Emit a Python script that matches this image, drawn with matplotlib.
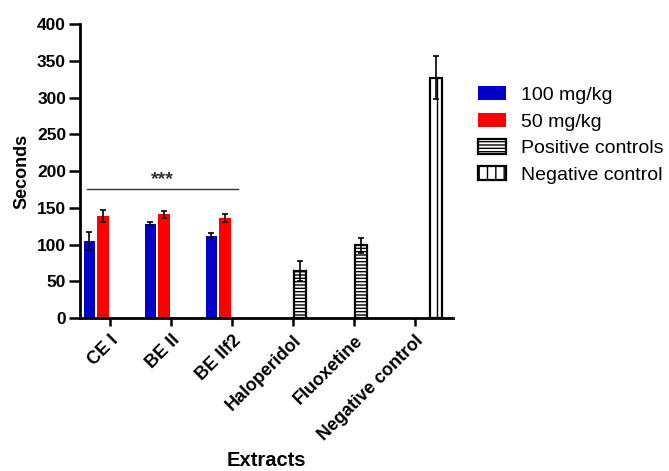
import numpy as np
import matplotlib
matplotlib.use('Agg')
import matplotlib.pyplot as plt

plt.rcParams['font.family'] = ['Liberation Sans', 'DejaVu Sans']
plt.rcParams['hatch.linewidth'] = 1.0

categories = ['CE I', 'BE II', 'BE IIf2', 'Haloperidol', 'Fluoxetine', 'Negative control']
dose100 = [105, 128, 112, np.nan, np.nan, np.nan]
dose100_err = [12, 2, 3, 0, 0, 0]
dose50 = [139, 141, 136, np.nan, np.nan, np.nan]
dose50_err = [8, 5, 6, 0, 0, 0]
positive = [np.nan, np.nan, np.nan, 64, 99, np.nan]
positive_err = [0, 0, 0, 14, 10, 0]
negative = [np.nan, np.nan, np.nan, np.nan, np.nan, 327]
negative_err = [0, 0, 0, 0, 0, 29]

fig = plt.figure(figsize=(6.69, 4.71), dpi=100)
ax = fig.add_axes([0.1196, 0.3248, 0.5575, 0.6242])

x = np.arange(len(categories))
w = 0.19
step = 0.225
ekw = dict(ecolor='black', capsize=2.5, elinewidth=1.2, capthick=1.2)

ax.bar(x - 1.5 * step, dose100, w, yerr=dose100_err, color='#0000c8',
       label='100 mg/kg', error_kw=ekw)
ax.bar(x - 0.5 * step, dose50, w, yerr=dose50_err, color='#ff0000',
       label='50 mg/kg', error_kw=ekw)
ax.bar(x + 0.5 * step, positive, w, yerr=positive_err, color='white',
       edgecolor='black', linewidth=1.6, hatch='-----',
       label='Positive controls', error_kw=ekw)
ax.bar(x + 1.5 * step, negative, w, yerr=negative_err, color='white',
       edgecolor='black', linewidth=1.6, hatch='||',
       label='Negative control', error_kw=ekw)

# significance bar
ax.plot([-0.38, 2.1], [175, 175], color='#333333', lw=1)
ax.text(0.86, 177, '***', ha='center', va='bottom', fontsize=14,
        fontweight='bold', color='#333333')

ax.set_xlim(-0.49, 5.62)
ax.set_ylim(0, 400)
ax.set_yticks(np.arange(0, 401, 50))
ax.set_xticks(x)
ax.set_xticklabels(categories, rotation=45, ha='right', rotation_mode='anchor',
                   fontsize=13, fontweight='bold')
for lbl in ax.get_yticklabels():
    lbl.set_fontweight('bold')
    lbl.set_fontsize(12.5)

ax.spines['top'].set_visible(False)
ax.spines['right'].set_visible(False)
ax.spines['left'].set_linewidth(2)
ax.spines['bottom'].set_linewidth(2)
ax.tick_params(axis='y', length=8, width=1.8, pad=2)
ax.tick_params(axis='x', length=6, width=1.8, pad=4)

ax.set_ylabel('Seconds', fontsize=13, fontweight='bold', labelpad=5)
ax.set_xlabel('Extracts', fontsize=14.5, fontweight='bold', labelpad=5)

fig.legend(loc='upper left', bbox_to_anchor=(0.703, 0.834), frameon=False,
           fontsize=14, handlelength=1.45, handleheight=0.75, handletextpad=0.75,
           labelspacing=0.45, borderaxespad=0)

fig.savefig('out.png', dpi=100)
